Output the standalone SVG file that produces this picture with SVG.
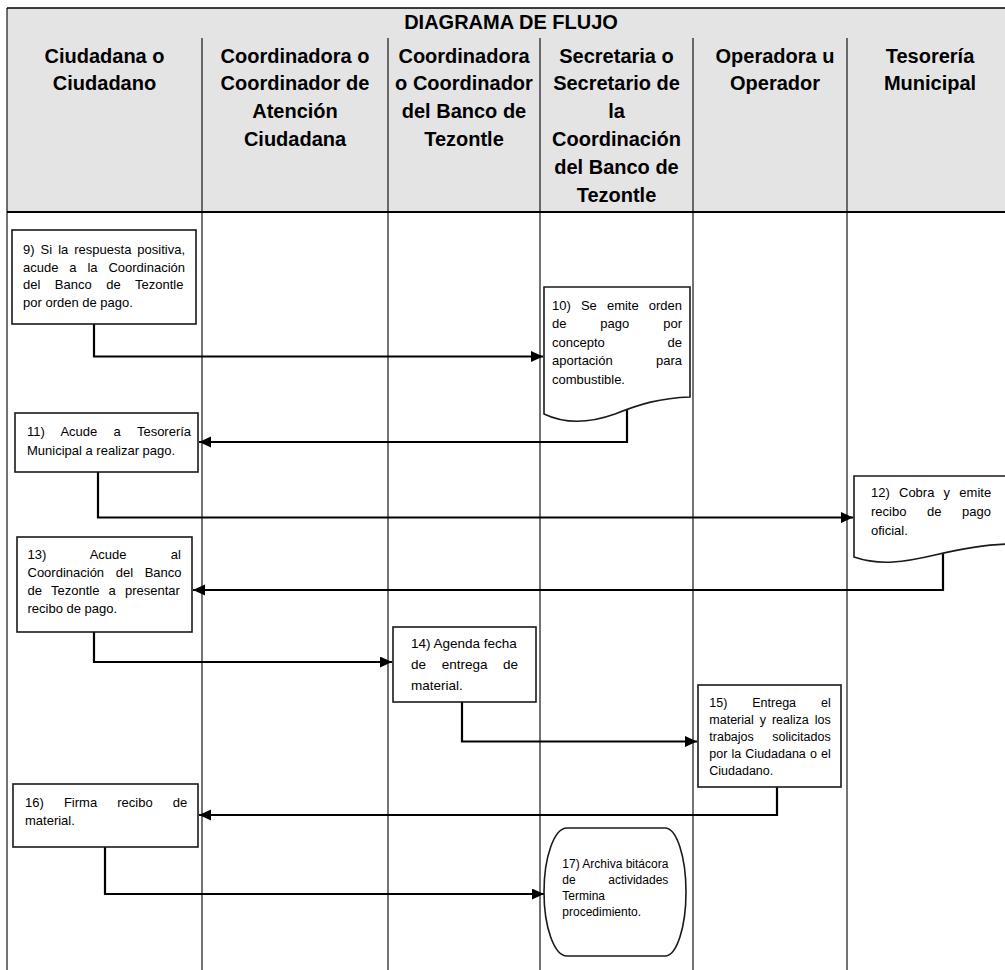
<svg xmlns="http://www.w3.org/2000/svg" width="1005" height="970" viewBox="0 0 1005 970">
<style>
.hd{font-family:"Liberation Sans",Arial,sans-serif;font-weight:bold;font-size:20px;fill:#000;text-anchor:middle}
.tx{font-family:"Liberation Sans",Arial,sans-serif;font-size:13px;fill:#000}
.t12{font-size:12px}
.t125{font-size:12.5px}
.t135{font-size:13.5px}
.lane{stroke:#000;stroke-width:1.1;fill:none}
.box{fill:#fff;stroke:#1a1a1a;stroke-width:1.6}
.con{fill:none;stroke:#000;stroke-width:2.2;marker-end:url(#ah)}
</style>
<defs>
<marker id="ah" markerUnits="userSpaceOnUse" markerWidth="13" markerHeight="12" refX="12" refY="5.5" orient="auto">
<path d="M0,0 L12,5.5 L0,11 Z" fill="#000"/>
</marker>
</defs>
<rect x="0" y="0" width="1005" height="970" fill="#fff"/>
<g id="header">
<rect x="7" y="8" width="1005" height="204" fill="#e4e4e4"/>
<line x1="7" y1="8" x2="1005" y2="8" stroke="#000" stroke-width="1.5"/>
<line x1="7" y1="212" x2="1005" y2="212" stroke="#000" stroke-width="2"/>
<text class="hd" x="511" y="29.3">DIAGRAMA DE FLUJO</text>
<text class="hd" x="104.5" y="62.5">Ciudadana o</text>
<text class="hd" x="104.5" y="90.4">Ciudadano</text>
<text class="hd" x="295" y="62.5">Coordinadora o</text>
<text class="hd" x="295" y="90.4">Coordinador de</text>
<text class="hd" x="295" y="118.3">Atención</text>
<text class="hd" x="295" y="146.2">Ciudadana</text>
<text class="hd" x="464" y="62.5">Coordinadora</text>
<text class="hd" x="464" y="90.4">o Coordinador</text>
<text class="hd" x="464" y="118.3">del Banco de</text>
<text class="hd" x="464" y="146.2">Tezontle</text>
<text class="hd" x="616.5" y="62.5">Secretaria o</text>
<text class="hd" x="616.5" y="90.4">Secretario de</text>
<text class="hd" x="616.5" y="118.3">la</text>
<text class="hd" x="616.5" y="146.2">Coordinación</text>
<text class="hd" x="616.5" y="174.1">del Banco de</text>
<text class="hd" x="616.5" y="202">Tezontle</text>
<text class="hd" x="775" y="62.5">Operadora u</text>
<text class="hd" x="775" y="90.4">Operador</text>
<text class="hd" x="930" y="62.5">Tesorería</text>
<text class="hd" x="930" y="90.4">Municipal</text>
</g>
<g id="lanes">
<line class="lane" x1="7" y1="8" x2="7" y2="970"/>
<line class="lane" x1="202" y1="38" x2="202" y2="970"/>
<line class="lane" x1="388" y1="38" x2="388" y2="970"/>
<line class="lane" x1="540" y1="38" x2="540" y2="970"/>
<line class="lane" x1="693" y1="38" x2="693" y2="970"/>
<line class="lane" x1="847" y1="38" x2="847" y2="970"/>
</g>
<g id="connectors">
<path class="con" d="M94,324 V356.5 H543"/>
<path class="con" d="M627,410 V442 H199"/>
<path class="con" d="M98,472 V517.5 H853"/>
<path class="con" d="M943,553 V590 H193"/>
<path class="con" d="M94,632 V662 H392"/>
<path class="con" d="M462,702 V741.5 H697"/>
<path class="con" d="M777,787 V815 H199"/>
<path class="con" d="M105,847 V894 H544"/>
</g>
<g id="n9">
<rect class="box" x="12" y="230" width="184" height="94"/>
<text class="tx" x="23" y="254" word-spacing="2.4">9) Si la respuesta positiva,</text>
<text class="tx" x="23" y="271.7" word-spacing="7.27">acude a la Coordinación</text>
<text class="tx" x="23" y="289.4" word-spacing="10.9">del Banco de Tezontle</text>
<text class="tx" x="23" y="307">por orden de pago.</text>
</g>
<g id="n10">
<path class="box" d="M544,287 H690 V397 C660,398 640,404 615,414 C590,423 565,424 544,414 Z"/>
<text class="tx" x="552" y="309.5" word-spacing="6.5">10) Se emite orden</text>
<text class="tx" x="552" y="328" word-spacing="30.3">de pago por</text>
<text class="tx" x="552" y="346.5" word-spacing="59.2">concepto de</text>
<text class="tx" x="552" y="365" word-spacing="39.7">aportación para</text>
<text class="tx" x="552" y="383.5">combustible.</text>
</g>
<g id="n11">
<rect class="box" x="15" y="413" width="183" height="59"/>
<text class="tx" x="27" y="436" word-spacing="12.7">11) Acude a Tesorería</text>
<text class="tx" x="27" y="455">Municipal a realizar pago.</text>
</g>
<g id="n12">
<path class="box" d="M854,476 H1012 V544 C990,544 965,548 935,555 C905,562 880,566 854,557 Z"/>
<text class="tx" x="871" y="497" word-spacing="5.6">12) Cobra y emite</text>
<text class="tx" x="871" y="516" word-spacing="17">recibo de pago</text>
<text class="tx" x="871" y="535">oficial.</text>
</g>
<g id="n13">
<rect class="box" x="17" y="537" width="175" height="95"/>
<text class="tx" x="27.5" y="558.5" word-spacing="40.5">13) Acude al</text>
<text class="tx" x="27.5" y="576.8" word-spacing="8">Coordinación del Banco</text>
<text class="tx" x="27.5" y="595" word-spacing="5.6">de Tezontle a presentar</text>
<text class="tx" x="27.5" y="613.3">recibo de pago.</text>
</g>
<g id="n14">
<rect class="box" x="393" y="627" width="143" height="75"/>
<text class="tx t135" x="411" y="648">14) Agenda fecha</text>
<text class="tx t135" x="411" y="669" word-spacing="11.9">de entrega de</text>
<text class="tx t135" x="411" y="690">material.</text>
</g>
<g id="n15">
<rect class="box" x="698" y="685" width="143" height="102"/>
<text class="tx t125" x="709.3" y="706.7" word-spacing="21.45">15) Entrega el</text>
<text class="tx t125" x="709.3" y="723.6" word-spacing="2.5">material y realiza los</text>
<text class="tx t125" x="709.3" y="740.8" word-spacing="15.1">trabajos solicitados</text>
<text class="tx t125" x="709.3" y="758" word-spacing="0.65">por la Ciudadana o el</text>
<text class="tx t125" x="709.3" y="775.2">Ciudadano.</text>
</g>
<g id="n16">
<rect class="box" x="13" y="784" width="185" height="63"/>
<text class="tx" x="25" y="806.7" word-spacing="16.5">16) Firma recibo de</text>
<text class="tx" x="25" y="825">material.</text>
</g>
<g id="n17">
<path class="box" d="M567,828 H665 A21,64 0 0 1 665,956 H567 A23,64 0 0 1 567,828 Z"/>
<text class="tx t12" x="562.3" y="867.7">17) Archiva bitácora</text>
<text class="tx t12" x="562.3" y="883.5" word-spacing="29.3">de actividades</text>
<text class="tx t12" x="562.3" y="899.5">Termina</text>
<text class="tx t12" x="562.3" y="916">procedimiento.</text>
</g>
</svg>
